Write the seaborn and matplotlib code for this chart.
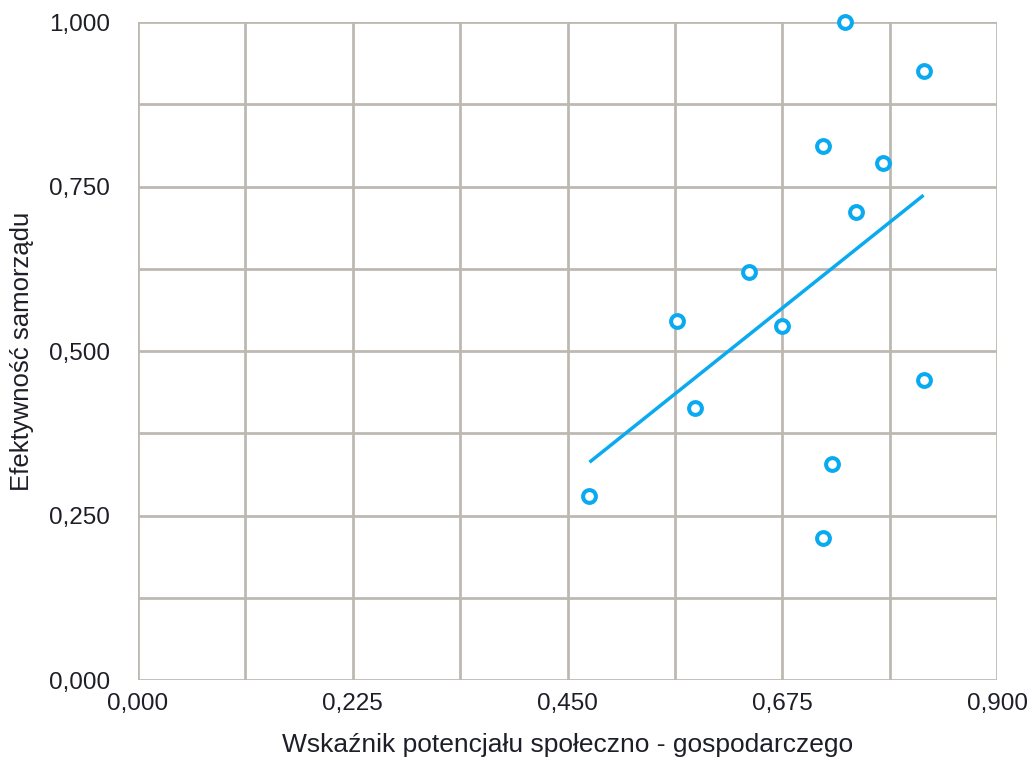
import numpy as np
import pandas as pd
import matplotlib.pyplot as plt
import seaborn as sns
from matplotlib.ticker import MultipleLocator, FuncFormatter

# values
potencjal = [0.473, 0.565, 0.584, 0.640, 0.675, 0.718, 0.718, 0.727, 0.741, 0.752, 0.780, 0.823, 0.823]
efektywnosc = [0.280, 0.546, 0.413, 0.620, 0.538, 0.812, 0.216, 0.328, 1.000, 0.711, 0.786, 0.926, 0.456]

x_ticks = [0.0, 0.225, 0.45, 0.675, 0.9]
y_ticks = [0.0, 0.25, 0.5, 0.75, 1.0]

df = pd.DataFrame({"x": potencjal, "y": efektywnosc})

sns.set_style("white")
plt.rcParams["font.family"] = ["Liberation Sans", "DejaVu Sans"]

blue = "#0aaaf0"
grid_col = "#bdb9b2"
text_col = "#1e1e28"

fig = plt.figure(figsize=(10.3, 7.6), dpi=100)
ax = fig.add_axes([0.134, 0.105, 0.834, 0.866])

# trend line (OLS fit of the points)
sns.regplot(data=df, x="x", y="y", scatter=False, ci=None, truncate=True,
            line_kws={"color": blue, "linewidth": 2.5, "solid_capstyle": "butt"}, ax=ax)

sns.scatterplot(data=df, x="x", y="y", marker="o", s=85, facecolor="white",
                edgecolor=blue, linewidth=2.9, zorder=5, clip_on=False, ax=ax)

ax.set_xlim(0, 0.9)
ax.set_ylim(0, 1.0)
ax.set_xticks(x_ticks)
ax.set_yticks(y_ticks)
ax.xaxis.set_minor_locator(MultipleLocator(0.1125))
ax.yaxis.set_minor_locator(MultipleLocator(0.125))

fmt = FuncFormatter(lambda v, p: f"{v:.3f}".replace(".", ","))
ax.xaxis.set_major_formatter(fmt)
ax.yaxis.set_major_formatter(fmt)

ax.grid(True, which="both", color=grid_col, linewidth=2.0)
ax.set_axisbelow(True)
for s in ax.spines.values():
    s.set_visible(False)

ax.tick_params(axis="both", which="both", length=0, labelsize=17.5, labelcolor=text_col)
ax.tick_params(axis="x", pad=9)
ax.tick_params(axis="y", pad=20)

ax.set_xlabel("Wskaźnik potencjału społeczno - gospodarczego", fontsize=19, color=text_col, labelpad=13)
ax.set_ylabel("Efektywność samorządu", fontsize=18.5, color=text_col, labelpad=11)

fig.savefig("out.png", dpi=100)
